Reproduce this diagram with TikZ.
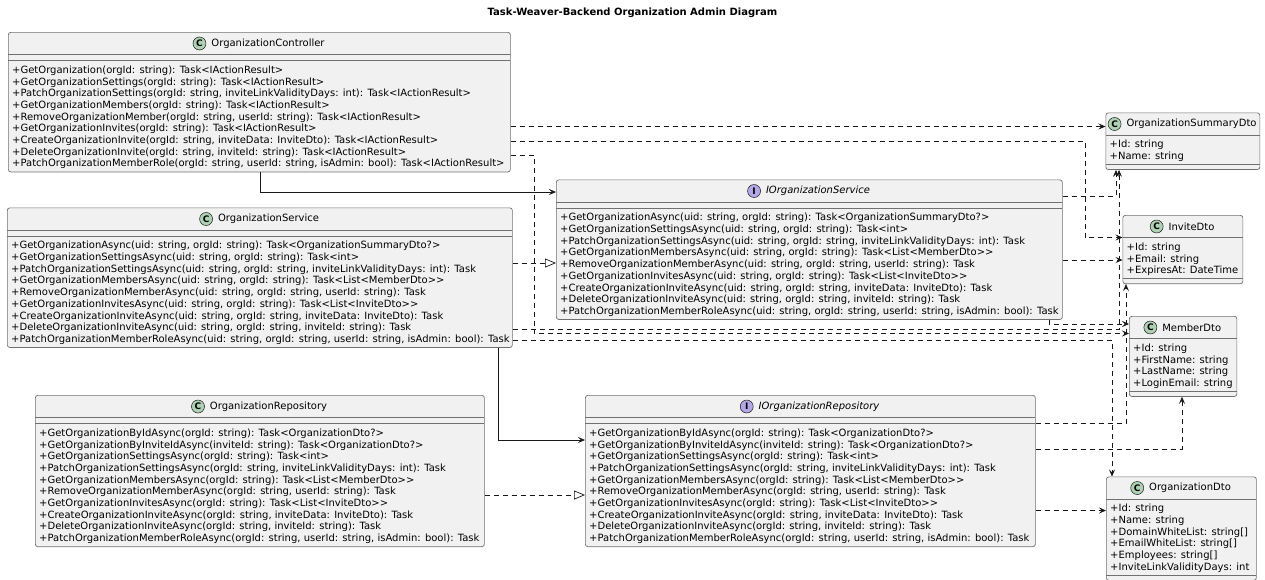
\documentclass[tikz,border=0pt]{standalone}
\usepackage{fontspec}
\setmainfont{DejaVu Sans}
\usetikzlibrary{arrows.meta, positioning}
\definecolor{umlfill}{HTML}{F1F1F1}
\definecolor{umlline}{HTML}{181818}
\definecolor{umlframe}{HTML}{707070}
\definecolor{classicon}{HTML}{ADD1B2}
\definecolor{ifaceicon}{HTML}{B4A7E5}

% operations shared by an interface and its implementation
\newcommand{\serviceops}{%
+GetOrganizationAsync(uid: string, orgId: string): Task<OrganizationSummaryDto?>\\%
+GetOrganizationSettingsAsync(uid: string, orgId: string): Task<int>\\%
+PatchOrganizationSettingsAsync(uid: string, orgId: string, inviteLinkValidityDays: int): Task\\%
+GetOrganizationMembersAsync(uid: string, orgId: string): Task<List<MemberDto>{}>\\%
+RemoveOrganizationMemberAsync(uid: string, orgId: string, userId: string): Task\\%
+GetOrganizationInvitesAsync(uid: string, orgId: string): Task<List<InviteDto>{}>\\%
+CreateOrganizationInviteAsync(uid: string, orgId: string, inviteData: InviteDto): Task\\%
+DeleteOrganizationInviteAsync(uid: string, orgId: string, inviteId: string): Task\\%
+PatchOrganizationMemberRoleAsync(uid: string, orgId: string, userId: string, isAdmin: bool): Task}
\newcommand{\repoops}{%
+GetOrganizationByIdAsync(orgId: string): Task<OrganizationDto?>\\%
+GetOrganizationByInviteIdAsync(inviteId: string): Task<OrganizationDto?>\\%
+GetOrganizationSettingsAsync(orgId: string): Task<int>\\%
+PatchOrganizationSettingsAsync(orgId: string, inviteLinkValidityDays: int): Task\\%
+GetOrganizationMembersAsync(orgId: string): Task<List<MemberDto>{}>\\%
+RemoveOrganizationMemberAsync(orgId: string, userId: string): Task\\%
+GetOrganizationInvitesAsync(orgId: string): Task<List<InviteDto>{}>\\%
+CreateOrganizationInviteAsync(orgId: string, inviteData: InviteDto): Task\\%
+DeleteOrganizationInviteAsync(orgId: string, inviteId: string): Task\\%
+PatchOrganizationMemberRoleAsync(orgId: string, userId: string, isAdmin: bool): Task}

\begin{document}
\begin{tikzpicture}[
    x=1pt, y=-1pt,
    every node/.style={font=\fontsize{10}{11.7}\selectfont, inner sep=0pt},
    umlbox/.style={draw=umlframe, fill=umlfill, rounded corners=2.5pt, line width=0.7pt, anchor=north west},
    umlsep/.style={draw=umlframe, line width=0.7pt},
    iname/.style={font=\fontsize{10}{11.7}\selectfont\itshape},
    cicon/.style={circle, draw=umlline, line width=0.5pt, fill=classicon, minimum size=13pt,
                  font=\fontsize{9}{9}\selectfont\bfseries},
    iicon/.style={cicon, fill=ifaceicon},
    members/.style={align=left, anchor=north west},
    dep/.style={draw=umlline, line width=0.7pt, dash pattern=on 5pt off 4pt,
                -{Stealth[length=7pt, width=6pt, inset=2.8pt]}},
    uses/.style={draw=umlline, line width=0.7pt, -{Stealth[length=7pt, width=6pt, inset=2.8pt]}},
    realizes/.style={draw=umlline, line width=0.7pt, dash pattern=on 5pt off 4pt,
                     -{Triangle[open, length=11pt, width=9pt, fill=white]}},
]

% Page
\useasboundingbox (0,0) rectangle (1265,579);
\fill[white] (0,0) rectangle (1265,579);

% Title
\node[font=\fontsize{10}{12}\selectfont\bfseries] (title) at (632.5,13) {Task-Weaver-Backend Organization Admin Diagram};

% === OrganizationController ===
\node[umlbox, minimum width=502pt, minimum height=139.6pt] (ctrl) at (8,32) {};
\node (ctrlname) at (268,43.5) {OrganizationController};
\node[cicon, left=5pt of ctrlname] (ctrlicon) {C};
\draw[umlsep] (8,54.5) -- (510,54.5);
\draw[umlsep] (8,60.5) -- (510,60.5);
\node[members] (ctrlops) at (12,65.5) {%
+GetOrganization(orgId: string): Task<IActionResult>\\%
+GetOrganizationSettings(orgId: string): Task<IActionResult>\\%
+PatchOrganizationSettings(orgId: string, inviteLinkValidityDays: int): Task<IActionResult>\\%
+GetOrganizationMembers(orgId: string): Task<IActionResult>\\%
+RemoveOrganizationMember(orgId: string, userId: string): Task<IActionResult>\\%
+GetOrganizationInvites(orgId: string): Task<IActionResult>\\%
+CreateOrganizationInvite(orgId: string, inviteData: InviteDto): Task<IActionResult>\\%
+DeleteOrganizationInvite(orgId: string, inviteId: string): Task<IActionResult>\\%
+PatchOrganizationMemberRole(orgId: string, userId: string, isAdmin: bool): Task<IActionResult>};

% === OrganizationService ===
\node[umlbox, minimum width=505pt, minimum height=139.6pt] (svc) at (7,207.5) {};
\node (svcname) at (268.5,219) {OrganizationService};
\node[cicon, left=5pt of svcname] (svcicon) {C};
\draw[umlsep] (7,230) -- (512,230);
\draw[umlsep] (7,236) -- (512,236);
\node[members] (svcops) at (11,241) {\serviceops};

% === OrganizationRepository ===
\node[umlbox, minimum width=449pt, minimum height=151.3pt] (repo) at (35,395) {};
\node (reponame) at (268.5,406.5) {OrganizationRepository};
\node[cicon, left=5pt of reponame] (repoicon) {C};
\draw[umlsep] (35,417.5) -- (484,417.5);
\draw[umlsep] (35,423.5) -- (484,423.5);
\node[members] (repoops) at (39,428.5) {\repoops};

% === IOrganizationService ===
\node[umlbox, minimum width=506pt, minimum height=139.6pt] (isvc) at (556,179.5) {};
\node[iname] (isvcname) at (818,191) {IOrganizationService};
\node[iicon, left=5pt of isvcname] (isvcicon) {I};
\draw[umlsep] (556,202) -- (1062,202);
\draw[umlsep] (556,208) -- (1062,208);
\node[members] (isvcops) at (560,213) {\serviceops};

% === IOrganizationRepository ===
\node[umlbox, minimum width=450pt, minimum height=151.3pt] (irepo) at (585,395) {};
\node[iname] (ireponame) at (819,406.5) {IOrganizationRepository};
\node[iicon, left=5pt of ireponame] (irepoicon) {I};
\draw[umlsep] (585,417.5) -- (1035,417.5);
\draw[umlsep] (585,423.5) -- (1035,423.5);
\node[members] (irepoops) at (589,428.5) {\repoops};

% === DTOs ===
\node[umlbox, minimum width=154pt, minimum height=56.7pt] (sumdto) at (1105.5,112.5) {};
\node (sumdtoname) at (1191.5,124) {OrganizationSummaryDto};
\node[cicon, left=5pt of sumdtoname] (sumdtoicon) {C};
\draw[umlsep] (1105.5,135) -- (1259.5,135);
\draw[umlsep] (1105.5,164.2) -- (1259.5,164.2);
\node[members] (sumdtofields) at (1109.5,140) {+Id: string\\+Name: string};

\node[umlbox, minimum width=120pt, minimum height=68.4pt] (invdto) at (1122.5,215) {};
\node (invdtoname) at (1191.5,226.5) {InviteDto};
\node[cicon, left=5pt of invdtoname] (invdtoicon) {C};
\draw[umlsep] (1122.5,237.5) -- (1242.5,237.5);
\draw[umlsep] (1122.5,278.4) -- (1242.5,278.4);
\node[members] (invdtofields) at (1126.5,242.5) {+Id: string\\+Email: string\\+ExpiresAt: DateTime};

\node[umlbox, minimum width=107.5pt, minimum height=80.1pt] (memdto) at (1129,316) {};
\node (memdtoname) at (1191.75,327.5) {MemberDto};
\node[cicon, left=5pt of memdtoname] (memdtoicon) {C};
\draw[umlsep] (1129,338.5) -- (1236.5,338.5);
\draw[umlsep] (1129,391.1) -- (1236.5,391.1);
\node[members] (memdtofields) at (1133,343.5) {+Id: string\\+FirstName: string\\+LastName: string\\+LoginEmail: string};

\node[umlbox, minimum width=150pt, minimum height=103.5pt] (orgdto) at (1106,476.5) {};
\node (orgdtoname) at (1190,488) {OrganizationDto};
\node[cicon, left=5pt of orgdtoname] (orgdtoicon) {C};
\draw[umlsep] (1106,499) -- (1256,499);
\draw[umlsep] (1106,575) -- (1256,575);
\node[members] (orgdtofields) at (1110,504) {+Id: string\\+Name: string\\+DomainWhiteList: string[]\\%
+EmailWhiteList: string[]\\+Employees: string[]\\+InviteLinkValidityDays: int};

% === Connectors ===
\draw[uses] (ctrl.south -| 260,0) |- (isvc.west |- 0,192);
\draw[uses] (svc.south -| 498,0) |- (irepo.west |- 0,440);
\draw[realizes] (svc.east |- 0,263) -- (isvc.west |- 0,263);
\draw[realizes] (repo.east |- 0,495) -- (irepo.west |- 0,495);

\draw[dep] (ctrl.east |- 0,126.5) -- (sumdto.west |- 0,126.5);
\draw[dep] (ctrl.east |- 0,141) -| (1085,237.5) -- (invdto.west |- 0,237.5);
\draw[dep] (ctrl.east |- 0,155) -| (534,333.5) -- (memdto.west |- 0,333.5);

\draw[dep] (svc.east |- 0,329.5) -| (sumdto.south -| 1119,0);
\draw[dep] (svc.east |- 0,340.5) -| (orgdto.north -| 1112,0);

\draw[dep] (isvc.east |- 0,196) -| (sumdto.south -| 1116,0);
\draw[dep] (isvc.east |- 0,260) -- (invdto.west |- 0,260);
\draw[dep] (isvc.south -| 1049,0) |- (memdto.west |- 0,324);

\draw[dep] (irepo.east |- 0,423.5) -| (invdto.south -| 1126,0);
\draw[dep] (irepo.east |- 0,449) -| (memdto.south -| 1182,0);
\draw[dep] (irepo.east |- 0,510.5) -- (orgdto.west |- 0,510.5);

\end{tikzpicture}
\end{document}
